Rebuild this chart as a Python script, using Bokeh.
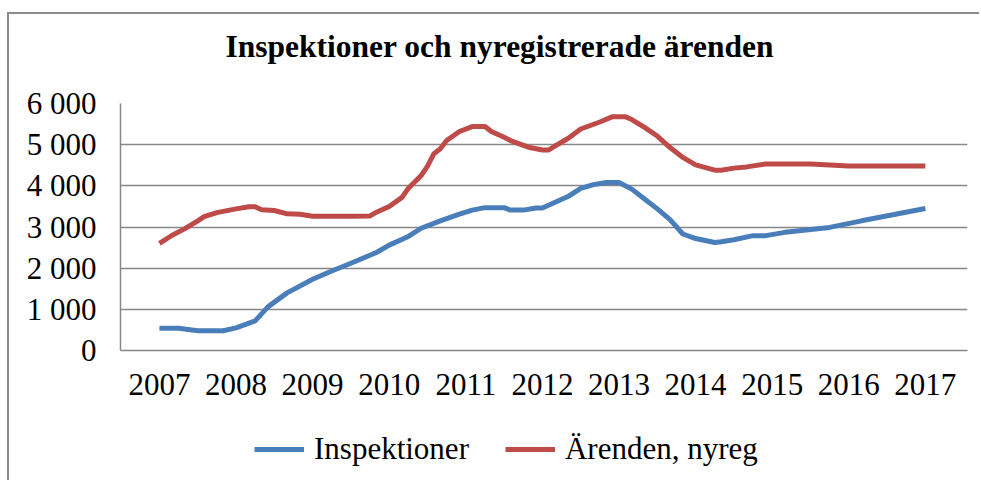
from bokeh.plotting import figure
from bokeh.layouts import column
from bokeh.models import FixedTicker, Legend, LegendItem, Label
from bokeh.embed import file_html
from bokeh.resources import INLINE

# ---- data ----
title_text = "Inspektioner och nyregistrerade ärenden"
year_labels = ["2007", "2008", "2009", "2010", "2011", "2012", "2013", "2014", "2015", "2016", "2017"]
year_ticks = [0, 12, 24, 36, 48, 60, 72, 84, 96, 108, 120]  # months since Jan 2007
y_ticks = [0, 1000, 2000, 3000, 4000, 5000, 6000]
y_tick_labels = ["0", "1 000", "2 000", "3 000", "4 000", "5 000", "6 000"]

insp_name = "Inspektioner"
insp_month = [0, 3, 6, 10, 12, 15, 17, 20, 24, 27, 30, 34, 36, 39, 41, 44, 47, 49, 51, 54, 55, 57, 59, 60,
              62, 64, 66, 68, 70, 72, 74, 76, 78, 80, 82, 84, 87, 88, 90, 93, 95, 98, 105, 110, 120]
insp_value = [540, 540, 480, 480, 550, 720, 1060, 1400, 1730, 1930, 2120, 2380, 2560, 2770, 2970, 3150, 3310,
              3410, 3470, 3470, 3410, 3410, 3460, 3460, 3600, 3740, 3940, 4030, 4080, 4080, 3920, 3680, 3440,
              3180, 2830, 2720, 2625, 2640, 2690, 2790, 2790, 2870, 2990, 3150, 3450]

arend_name = "Ärenden, nyreg"
arend_month = [0, 2, 4, 6, 7, 9, 12, 14, 15, 16, 18, 20, 22, 24, 30, 33, 34, 36, 38, 39, 41, 42, 43, 44, 45,
               47, 49, 51, 52, 54, 55, 58, 60, 61, 62, 64, 66, 69, 71, 73, 74, 76, 78, 80, 82, 84, 87, 88, 90,
               92, 95, 102, 108, 120]
arend_value = [2600, 2800, 2960, 3150, 3250, 3350, 3440, 3490, 3490, 3420, 3400, 3320, 3310, 3260, 3260, 3270,
               3360, 3500, 3720, 3940, 4250, 4480, 4780, 4900, 5100, 5320, 5440, 5440, 5320, 5180, 5100, 4930,
               4870, 4870, 4970, 5150, 5380, 5550, 5680, 5680, 5610, 5420, 5210, 4930, 4690, 4510, 4380, 4380,
               4430, 4460, 4530, 4530, 4480, 4480]

BLUE = "#4A7EBB"
RED = "#BE4B48"
GRID = "#878787"
FONT = "Liberation Serif"
W = 970

# ---- title strip ----
pt = figure(width=W, height=69, output_backend="svg", toolbar_location=None,
            x_range=(0, 1), y_range=(0, 1), x_axis_type=None, y_axis_type=None,
            min_border=0)
pt.grid.visible = False
pt.outline_line_color = None
pt.add_layout(Label(x=105, y=37, x_units="screen", y_units="screen", text=title_text,
                    text_font=FONT, text_font_size="31.5px", text_font_style="bold",
                    text_color="black", text_align="left", text_baseline="middle"))

# ---- main chart ----
p = figure(frame_width=847, frame_height=247, output_backend="svg", toolbar_location=None,
           x_range=(-6.1, 126.6), y_range=(0, 6000),
           min_border_left=111, min_border_right=W - 111 - 847, min_border_top=20, min_border_bottom=60)
p.outline_line_color = None

p.line(insp_month, insp_value, line_color=BLUE, line_width=5)
p.line(arend_month, arend_value, line_color=RED, line_width=5)

p.xgrid.visible = False
p.ygrid.grid_line_color = GRID
p.ygrid.grid_line_width = 1.5
p.ygrid.ticker = FixedTicker(ticks=y_ticks)

p.yaxis.ticker = FixedTicker(ticks=y_ticks)
p.yaxis.major_label_overrides = dict(zip(y_ticks, y_tick_labels))
p.xaxis.ticker = FixedTicker(ticks=year_ticks)
p.xaxis.major_label_overrides = dict(zip(year_ticks, year_labels))
for ax in (p.xaxis[0], p.yaxis[0]):
    ax.axis_line_color = GRID
    ax.axis_line_width = 1.5
    ax.major_tick_line_color = None
    ax.minor_tick_line_color = None
    ax.major_label_text_font = FONT
    ax.major_label_text_font_size = "31px"
    ax.major_label_text_color = "black"
p.yaxis.major_label_standoff = 18
p.xaxis.major_label_standoff = 17

# ---- legend strip (same series, drawn outside this strip's ranges; only the legend shows) ----
pl = figure(width=W, height=70, output_backend="svg", toolbar_location=None,
            x_range=(1000, 1001), y_range=(-2, -1), x_axis_type=None, y_axis_type=None,
            min_border=0)
pl.grid.visible = False
pl.outline_line_color = None
lr1 = pl.line(insp_month, insp_value, line_color=BLUE, line_width=5)
lr2 = pl.line(arend_month, arend_value, line_color=RED, line_width=5)
legend = Legend(items=[LegendItem(label=insp_name, renderers=[lr1]),
                       LegendItem(label=arend_name, renderers=[lr2])],
                orientation="horizontal", location=(134, 13))
legend.label_text_font = FONT
legend.label_text_font_size = "31px"
legend.label_text_color = "black"
legend.label_standoff = 10
legend.glyph_width = 50
legend.glyph_height = 20
legend.spacing = 36
legend.padding = 2
legend.margin = 0
legend.border_line_color = None
legend.background_fill_alpha = 0
pl.add_layout(legend, "center")

layout = column(pt, p, pl, spacing=0)
layout.margin = (12, 0, 0, 7)
layout.styles = {"border-top": "2px solid #8c8c8c", "border-left": "2px solid #8c8c8c"}

open("out.html", "w").write(file_html(layout, INLINE))
